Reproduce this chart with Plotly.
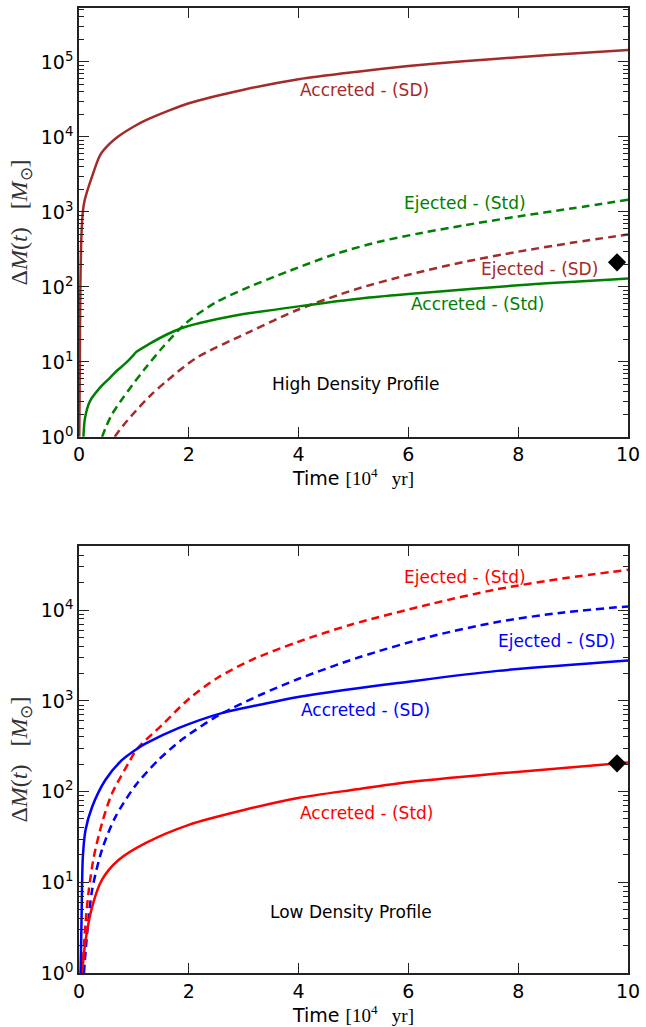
import plotly.graph_objects as go

# ---------------- High density profile (top) ----------------
hd_acc_sd_t = [0.005, 0.015, 0.025, 0.045, 0.07, 0.1, 0.24, 0.39, 0.55, 0.72, 1.0, 1.21, 1.6, 2.0, 3.0, 4.0, 5.07, 6.0, 7.0, 8.0, 9.0, 10.0]
hd_acc_sd_m = [1, 10, 100, 500, 1000, 1400, 3000, 5800, 8000, 10200, 13800, 16600, 21900, 28200, 42700, 58900, 74100, 88100, 102000, 116000, 130000, 145000]

hd_acc_std_t = [0.08, 0.11, 0.2, 0.38, 0.55, 0.68, 0.85, 0.98, 1.04, 1.29, 1.59, 1.89, 2.2, 2.8, 4.0, 5.21, 6.24, 8.0, 10.0]
hd_acc_std_m = [1, 1.8, 3.0, 4.5, 6.0, 7.5, 9.6, 12.0, 13.5, 17.5, 23, 28.5, 33, 41, 55, 71, 83, 105, 129]

hd_ej_std_t = [0.42, 0.5, 0.6, 0.8, 0.98, 1.2, 1.53, 1.95, 2.49, 3.1, 3.82, 4.67, 5.51, 6.24, 7.0, 8.0, 9.0, 10.0]
hd_ej_std_m = [1, 1.4, 2.0, 3.3, 5.0, 8.1, 15.8, 33, 62, 100, 162, 275, 407, 525, 660, 870, 1120, 1450]

hd_ej_sd_t = [0.65, 0.8, 0.98, 1.3, 1.59, 2.13, 3.1, 4.0, 5.0, 6.0, 7.0, 8.0, 9.0, 10.0]
hd_ej_sd_m = [1, 1.4, 2.0, 3.55, 5.5, 11.2, 25, 50, 91, 145, 214, 295, 390, 500]

hd_obs_t = [9.8]
hd_obs_m = [213]

# ---------------- Low density profile (bottom) ----------------
ld_ej_std_t = [0.06, 0.12, 0.18, 0.27, 0.42, 0.6, 0.91, 1.06, 1.51, 2.0, 2.54, 3.14, 3.99, 4.95, 6.41, 7.62, 8.83, 10.0]
ld_ej_std_m = [1, 3.6, 8.3, 19, 45, 95, 210, 297, 540, 1050, 1820, 2820, 4470, 6900, 11700, 17000, 22400, 27800]

ld_ej_sd_t = [0.09, 0.15, 0.24, 0.42, 0.66, 1.03, 1.45, 1.87, 2.54, 3.32, 3.99, 5.1, 6.41, 7.62, 8.83, 10.0]
ld_ej_sd_m = [1, 2.8, 8.3, 23, 52, 117, 224, 372, 692, 1175, 1740, 3020, 5130, 7400, 9440, 11000]

ld_acc_sd_t = [0.02, 0.03, 0.05, 0.07, 0.12, 0.24, 0.48, 0.78, 1.06, 1.21, 1.81, 2.6, 3.32, 3.99, 5.01, 5.81, 7.62, 10.0]
ld_acc_sd_m = [0.8, 1.1, 5.4, 19, 38, 68, 134, 222, 297, 337, 500, 733, 912, 1100, 1360, 1570, 2140, 2790]

ld_acc_std_t = [0.03, 0.06, 0.12, 0.24, 0.42, 0.72, 1.21, 2.0, 3.02, 3.99, 5.07, 5.81, 7.62, 10.0]
ld_acc_std_m = [0.9, 1.1, 2.3, 5.4, 10.7, 17.6, 27, 43, 63, 85, 106, 123, 158, 209]

ld_obs_t = [9.8]
ld_obs_m = [205]

BROWN = "#a52a2a"
GREEN = "#008000"
RED = "#ff0000"
BLUE = "#0000ff"
DASH = "8px,5px"
LW = 2.5

fig = go.Figure()

def line(t, m, color, dash, xa, ya):
    fig.add_trace(go.Scatter(x=t, y=m, mode="lines", xaxis=xa, yaxis=ya,
                             line=dict(color=color, width=LW, dash=dash, shape="spline", smoothing=0.8),
                             showlegend=False, hoverinfo="skip"))

line(hd_ej_std_t, hd_ej_std_m, GREEN, DASH, "x", "y")
line(hd_ej_sd_t, hd_ej_sd_m, BROWN, DASH, "x", "y")
line(hd_acc_std_t, hd_acc_std_m, GREEN, "solid", "x", "y")
line(hd_acc_sd_t, hd_acc_sd_m, BROWN, "solid", "x", "y")
fig.add_trace(go.Scatter(x=hd_obs_t, y=hd_obs_m, mode="markers", xaxis="x", yaxis="y",
                         marker=dict(symbol="diamond", size=14, color="black"),
                         showlegend=False, cliponaxis=False))

line(ld_ej_std_t, ld_ej_std_m, RED, DASH, "x2", "y2")
line(ld_ej_sd_t, ld_ej_sd_m, BLUE, DASH, "x2", "y2")
line(ld_acc_std_t, ld_acc_std_m, RED, "solid", "x2", "y2")
line(ld_acc_sd_t, ld_acc_sd_m, BLUE, "solid", "x2", "y2")
fig.add_trace(go.Scatter(x=ld_obs_t, y=ld_obs_m, mode="markers", xaxis="x2", yaxis="y2",
                         marker=dict(symbol="diamond", size=14, color="black"),
                         showlegend=False, cliponaxis=False))

TICKFONT = dict(family="DejaVu Sans", size=19, color="black")
AXCOL = "#222222"

x_title = ("Time <span style=\"font-family:'Liberation Serif'\">[10<sup>4</sup>\u00a0\u00a0\u00a0yr]</span>")
y_title = ("\u0394<i>M</i>(<i>t</i>)\u00a0\u00a0\u00a0[<i>M</i><sub>\u2299</sub>]")

def xaxis(domain_anchor):
    return dict(range=[0, 10], tickvals=[0, 2, 4, 6, 8, 10], ticks="inside", ticklen=10,
                tickwidth=1.3, tickcolor=AXCOL, showline=True, linecolor=AXCOL, linewidth=1.5,
                mirror="ticks", showgrid=False, zeroline=False, tickfont=TICKFONT,
                anchor=domain_anchor,
                title=dict(text=x_title, font=dict(family="DejaVu Sans", size=19, color="black"), standoff=4))

def yaxis(domain, top_exp, nmaj):
    vals = [10 ** i for i in range(nmaj)]
    txt = ["10<sup>%d</sup>" % i for i in range(nmaj)]
    minor_vals = [k * 10 ** i for i in range(nmaj) for k in range(2, 10)]
    return dict(type="log", range=[0, top_exp], domain=domain, tickvals=vals, ticktext=txt,
                ticks="inside", ticklen=10, tickwidth=1.3, tickcolor=AXCOL,
                minor=dict(tickvals=minor_vals, ticks="inside", ticklen=5, tickwidth=1, tickcolor=AXCOL, showgrid=False),
                showline=True, linecolor=AXCOL, linewidth=1.5, mirror="ticks", showgrid=False,
                zeroline=False, tickfont=TICKFONT,
                title=dict(text=y_title, font=dict(family="Liberation Serif", size=24, color="#333333"), standoff=6))

fig.update_layout(
    width=646, height=1027,
    margin=dict(l=79, r=14, t=6, b=54),
    paper_bgcolor="white", plot_bgcolor="white",
    xaxis=xaxis("y"),
    yaxis=yaxis([0.5556, 1.0], 5.72, 6),
    xaxis2=xaxis("y2"),
    yaxis2=yaxis([0.0, 0.4423], 4.705, 5),
)

ANNFONT = "DejaVu Sans"
def ann(x, ylog, text, color, xr, yr):
    fig.add_annotation(x=x, y=ylog, xref=xr, yref=yr, text=text, showarrow=False,
                       font=dict(family=ANNFONT, size=17, color=color), xanchor="center", yanchor="middle")

ann(5.2, 4.63, "Accreted - (SD)", BROWN, "x", "y")
ann(7.03, 3.125, "Ejected - (Std)", GREEN, "x", "y")
ann(8.39, 2.245, "Ejected - (SD)", BROWN, "x", "y")
ann(7.25, 1.77, "Accreted - (Std)", GREEN, "x", "y")
ann(5.04, 0.70, "High Density Profile", "black", "x", "y")

ann(7.03, 4.37, "Ejected - (Std)", RED, "x2", "y2")
ann(8.7, 3.665, "Ejected - (SD)", BLUE, "x2", "y2")
ann(5.21, 2.90, "Accreted - (SD)", BLUE, "x2", "y2")
ann(5.24, 1.76, "Accreted - (Std)", RED, "x2", "y2")
ann(4.96, 0.676, "Low Density Profile", "black", "x2", "y2")

fig.write_html("out.html", config={"displayModeBar": False},
               post_script="document.body.style.margin='0px';document.body.style.overflow='hidden';")
